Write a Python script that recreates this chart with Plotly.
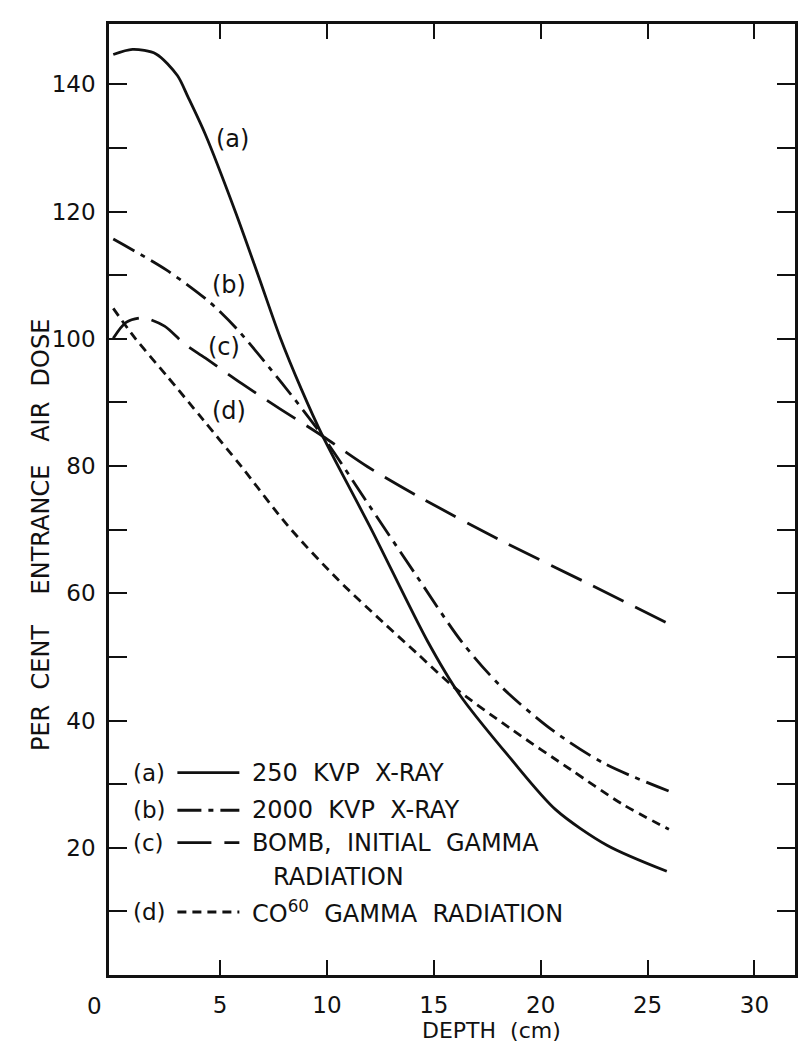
import plotly.graph_objects as go

# ---- data (depth in cm, per cent entrance air dose) ----
a_depth = [0, 0.9, 2.0, 3.0, 3.5, 4.3, 5.7, 6.8, 7.8, 8.8, 9.8, 12.1, 14.7, 16.2, 18.6, 20.7, 23.1, 25.9]
a_dose = [144.7, 145.5, 144.8, 141.4, 138.0, 132.2, 120.1, 109.8, 100.3, 92.1, 84.7, 69.9, 52.5, 44.1, 34.0, 26.0, 20.4, 16.3]

b_depth = [0, 2.5, 4.5, 5.8, 7.9, 9.8, 12.0, 14.2, 16.3, 18.1, 20.5, 23.0, 26.0]
b_dose = [115.7, 110.8, 105.8, 101.5, 93.0, 84.7, 73.7, 62.7, 52.4, 45.5, 38.6, 33.2, 28.9]

c_depth = [0, 0.6, 1.4, 2.4, 3.3, 4.3, 6.0, 7.8, 9.8, 11.9, 14.4, 18.2, 22.0, 26.0]
c_dose = [100.1, 102.6, 103.3, 102.0, 99.3, 97.0, 93.0, 89.0, 84.7, 79.9, 75.0, 68.2, 61.9, 55.2]

d_depth = [0, 1.0, 2.5, 4.2, 6.0, 8.2, 10.5, 12.7, 14.2, 16.0, 18.6, 21.4, 23.8, 26.0]
d_dose = [104.8, 100.2, 94.2, 87.3, 79.9, 70.5, 62.2, 55.2, 50.6, 45.1, 38.7, 32.3, 26.9, 22.9]

series_keys = ["(a)", "(b)", "(c)", "(d)"]
series_names = ["250  KVP  X-RAY", "2000  KVP  X-RAY", "BOMB,  INITIAL  GAMMA", "CO<sup>60</sup>  GAMMA  RADIATION"]

x_tickvals = [5, 10, 15, 20, 25, 30]
y_tickvals = [20, 40, 60, 80, 100, 120, 140]
y_minorvals = [10, 30, 50, 70, 90, 110, 130]

FONT = "DejaVu Sans"
INK = "#111111"
dashes = ["solid", "24px,7px,5px,7px", "34px,13px", "9px,6px"]

fig = go.Figure()
for xs, ys, name, dash in zip([a_depth, b_depth, c_depth, d_depth],
                              [a_dose, b_dose, c_dose, d_dose],
                              series_names, dashes):
    fig.add_trace(go.Scatter(x=xs, y=ys, mode="lines", name=name,
                             line=dict(color=INK, width=2.8, dash=dash, shape="spline", smoothing=0.8),
                             showlegend=False, hoverinfo="skip"))

# curve labels
label_pos = [(5.6, 131.4), (5.4, 108.4), (5.2, 98.8), (5.4, 88.7)]
for key, (lx, ly) in zip(series_keys, label_pos):
    fig.add_annotation(x=lx, y=ly, xref="x", yref="y", text=key, showarrow=False,
                       font=dict(family=FONT, size=24, color=INK), xanchor="center", yanchor="middle")

# hand-drawn style legend in lower left
legend_rows = [31.8, 25.9, 20.8, 9.9]
for key, name, dash, yy in zip(series_keys, series_names, dashes, legend_rows):
    fig.add_annotation(x=0.85, y=yy, xref="x", yref="y", text=key, showarrow=False,
                       font=dict(family=FONT, size=23, color=INK), xanchor="left", yanchor="middle")
    fig.add_shape(type="line", xref="x", yref="y", x0=3.0, x1=5.9, y0=yy, y1=yy,
                  line=dict(color=INK, width=2.8, dash=dash))
    fig.add_annotation(x=6.4, y=yy, xref="x", yref="y", text=name, showarrow=False,
                       font=dict(family=FONT, size=24, color=INK), xanchor="left", yanchor="middle")
fig.add_annotation(x=7.4, y=15.4, xref="x", yref="y", text="RADIATION", showarrow=False,
                   font=dict(family=FONT, size=24, color=INK), xanchor="left", yanchor="middle")

# origin label and axis titles
fig.add_annotation(x=0, y=0, xref="x", yref="y", text="0", showarrow=False, xshift=-19, yshift=-31,
                   font=dict(family=FONT, size=23, color=INK))
fig.add_annotation(x=0.558, y=-0.058, xref="paper", yref="paper", text="DEPTH  (cm)", showarrow=False,
                   font=dict(family=FONT, size=22, color=INK), xanchor="center", yanchor="middle")
fig.add_annotation(x=-0.1, y=0.463, xref="paper", yref="paper",
                   text="PER  CENT    ENTRANCE   AIR  DOSE", textangle=-90, showarrow=False,
                   font=dict(family=FONT, size=24, color=INK), xanchor="center", yanchor="middle")

fig.update_xaxes(range=[-0.2, 31.9], tickvals=x_tickvals, ticks="inside", ticklen=15, tickwidth=2,
                 tickcolor=INK, showline=True, linewidth=2.5, linecolor=INK, mirror="ticks",
                 showgrid=False, zeroline=False, ticklabelstandoff=8,
                 tickfont=dict(family=FONT, size=23, color=INK))
fig.update_yaxes(range=[0, 149.5], tickvals=y_tickvals, ticks="inside", ticklen=18,
                 tickwidth=2, tickcolor=INK, showline=True, linewidth=2.5, linecolor=INK, mirror="ticks",
                 showgrid=False, zeroline=False, ticklabelstandoff=6,
                 minor=dict(tickvals=y_minorvals, ticks="inside", ticklen=18, tickwidth=2,
                            tickcolor=INK, showgrid=False),
                 tickfont=dict(family=FONT, size=23, color=INK))

# page body has an 8px margin, so the figure is sized to fill the 810x1043 window from that offset
fig.update_layout(width=802, height=1035, margin=dict(l=101, r=15, t=16, b=68),
                  plot_bgcolor="white", paper_bgcolor="white", showlegend=False)

fig.write_html("out.html")
